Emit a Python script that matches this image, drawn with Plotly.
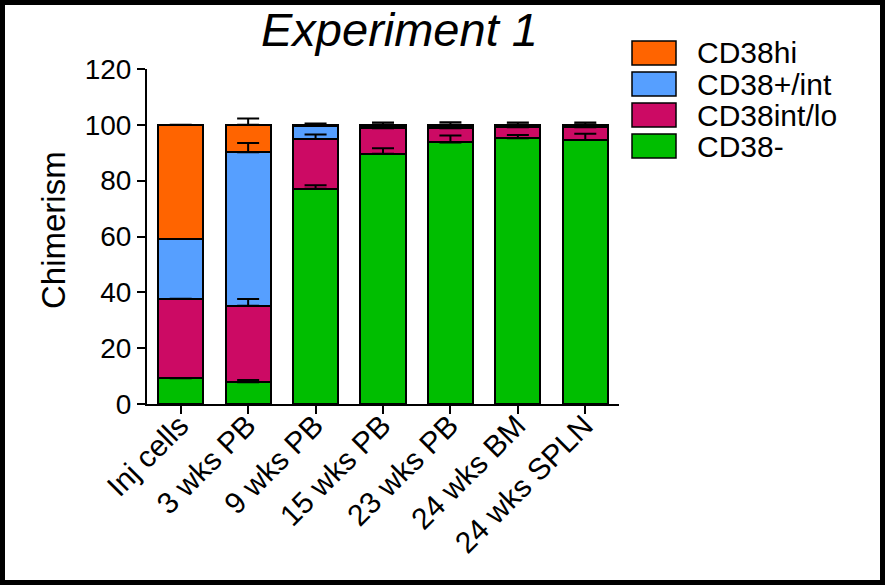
import numpy as np
import plotly.graph_objects as go

# Stacked CD38 sub-population chimerism per sample
categories = ["Inj cells", "3 wks PB", "9 wks PB", "15 wks PB",
              "23 wks PB", "24 wks BM", "24 wks SPLN"]

cd38_neg = [9.2, 7.8, 77.1, 89.6, 93.7, 95.2, 94.6]
cd38_intlo = [28.5, 27.4, 17.8, 9.2, 5.1, 3.9, 4.5]
cd38_posint = [21.4, 55.0, 4.7, 0.9, 0.9, 0.6, 0.7]
cd38_hi = [40.9, 9.8, 0.4, 0.3, 0.3, 0.3, 0.2]

# upward SEM bars (none for the injected cells)
cd38_neg_err = [None, 0.8, 1.3, 2.0, 2.5, 1.2, 2.2]
cd38_intlo_err = [None, 2.4, 1.6, 0.4, 0.4, 0.4, 0.4]
cd38_posint_err = [None, 3.3, 0.3, 0.3, 0.3, 0.3, 0.3]
cd38_hi_err = [None, 2.3, 0.5, 0.8, 0.9, 0.8, 0.8]

series = [
    ("CD38-", cd38_neg, cd38_neg_err, "#00BE00"),
    ("CD38int/lo", cd38_intlo, cd38_intlo_err, "#CC0A64"),
    ("CD38+/int", cd38_posint, cd38_posint_err, "#569FFF"),
    ("CD38hi", cd38_hi, cd38_hi_err, "#FF6400"),
]

FONT = "Liberation Sans, Arial, sans-serif"
W, H = 885, 585
ML, MR, MT, MB = 147, 266, 69, 181
PW, PH = W - ML - MR, H - MT - MB


def px_x(x):
    return (x - ML) / PW


def px_y(y):
    return (H - MB - y) / PH


fig = go.Figure()
for name, vals, _, color in series:
    fig.add_trace(go.Bar(
        x=categories, y=vals, name=name,
        marker=dict(color=color, line=dict(color="black", width=2)),
        width=0.67, showlegend=False,
    ))

# error bars sit on the top of each stacked segment and are drawn over the bars
running = np.zeros(len(categories))
for name, vals, errs, _ in series:
    running = running + np.array(vals)
    fig.add_trace(go.Scatter(
        x=categories, y=running.tolist(), mode="markers",
        marker=dict(size=1, opacity=0), hoverinfo="skip", showlegend=False,
        error_y=dict(type="data", symmetric=False, array=errs,
                     arrayminus=[0] * len(errs), color="black",
                     thickness=2, width=11),
    ))

shapes = []
annotations = []

# legend, top entry first
for i, (name, _, _, color) in enumerate(reversed(series)):
    top = 41 + i * 31
    shapes.append(dict(type="rect", xref="paper", yref="paper",
                       x0=px_x(632), x1=px_x(676),
                       y0=px_y(top + 24), y1=px_y(top),
                       fillcolor=color, line=dict(color="black", width=1.5)))
    annotations.append(dict(text=name, xref="paper", yref="paper",
                            x=px_x(695), y=px_y(top + 12),
                            xanchor="left", yanchor="middle", showarrow=False,
                            font=dict(family=FONT, size=30, color="black")))

# frame around the figure
shapes.append(dict(type="rect", xref="paper", yref="paper",
                   x0=px_x(2.5), x1=px_x(W - 2.5),
                   y0=px_y(H - 2.5), y1=px_y(2.5),
                   line=dict(color="black", width=5)))

annotations.append(dict(text="<i>Experiment 1</i>", xref="paper", yref="paper",
                        x=px_x(399), y=px_y(29), xanchor="center",
                        yanchor="middle", showarrow=False,
                        font=dict(family=FONT, size=47, color="black")))
annotations.append(dict(text="Chimerism", xref="paper", yref="paper",
                        x=px_x(53), y=px_y(230), xanchor="center",
                        yanchor="middle", textangle=-90, showarrow=False,
                        font=dict(family=FONT, size=33, color="black")))

fig.update_layout(
    width=W, height=H,
    margin=dict(l=ML, r=MR, t=MT, b=MB, pad=0, autoexpand=False),
    barmode="stack",
    plot_bgcolor="white", paper_bgcolor="white",
    font=dict(family=FONT, size=28, color="black"),
    shapes=shapes, annotations=annotations,
    xaxis=dict(range=[-0.5, 6.5], showline=True, linecolor="black",
               linewidth=2, ticks="outside", ticklen=8, tickwidth=2,
               tickcolor="black", tickangle=-45, showgrid=False,
               automargin=False,
               ticklabelshift=-1, ticklabelstandoff=-18,
               tickfont=dict(family=FONT, size=30, color="black")),
    yaxis=dict(range=[0, 120], tickvals=[0, 20, 40, 60, 80, 100, 120],
               showline=True, linecolor="black", linewidth=2,
               ticks="outside", ticklen=8, tickwidth=2, tickcolor="black",
               showgrid=False, zeroline=False, automargin=False,
               tickfont=dict(family=FONT, size=28, color="black")),
)

fig.write_html("out.html")
